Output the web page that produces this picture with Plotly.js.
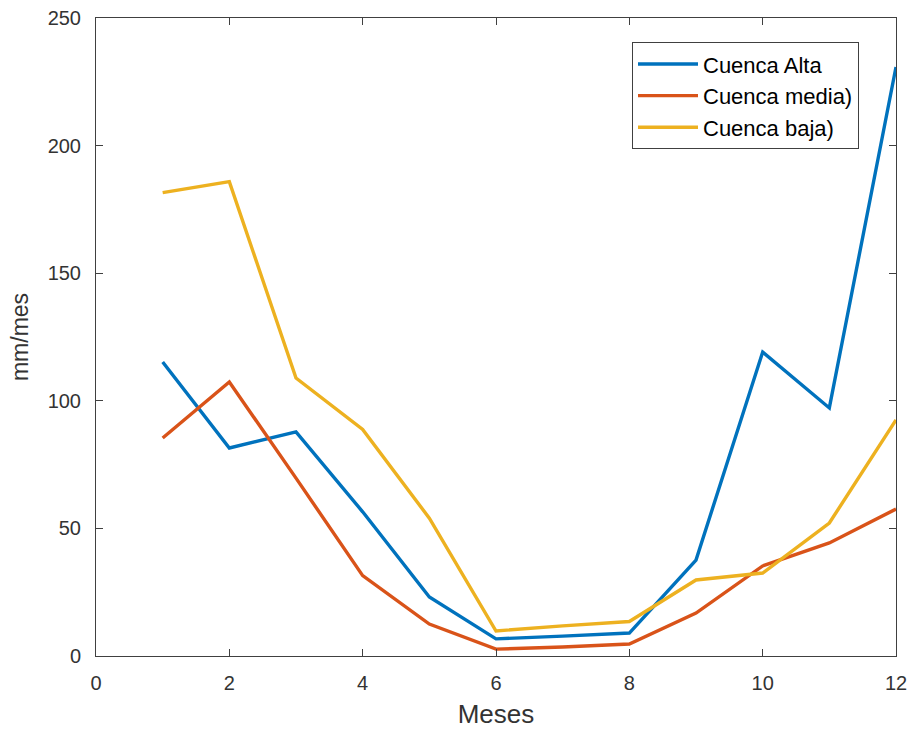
<!DOCTYPE html>
<html>
<head>
<meta charset="utf-8">
<script src="https://cdn.plot.ly/plotly-3.0.1.min.js"></script>
<style>html,body{margin:0;padding:0;background:#fff;}#chart{width:912px;height:729px;}</style>
</head>
<body>
<div id="chart"></div>
<script>
const meses = [1, 2, 3, 4, 5, 6, 7, 8, 9, 10, 11, 12];
const cuencaAlta  = [115.2, 81.5, 87.8, 56.5, 23.1, 6.7, 7.8, 9.0, 37.6, 119.1, 97.2, 230.8];
const cuencaMedia = [85.4, 107.4, 69.7, 31.5, 12.5, 2.7, 3.5, 4.7, 16.8, 35.3, 44.3, 57.6];
const cuencaBaja  = [181.6, 185.9, 108.9, 88.8, 54.0, 9.8, 11.8, 13.5, 29.8, 32.5, 52.1, 92.5];
const seriesNames = ["Cuenca Alta", "Cuenca media)", "Cuenca baja)"];
const colors = ["#0072BD", "#D95319", "#EDB120"];
const xTicks = [0, 2, 4, 6, 8, 10, 12];
const yTicks = [0, 50, 100, 150, 200, 250];

const ys = [cuencaAlta, cuencaMedia, cuencaBaja];
const traces = ys.map((y, i) => ({
  x: meses, y: y, type: "scatter", mode: "lines", name: seriesNames[i],
  line: {color: colors[i], width: 3.4}
}));

const FONT = "Liberation Sans, Arial, sans-serif";
const axisCommon = {
  showgrid: false, zeroline: false, showline: true, linecolor: "#404040", linewidth: 1,
  mirror: "ticks", ticks: "inside", ticklen: 7, tickcolor: "#404040", tickwidth: 1,
  tickfont: {family: FONT, size: 20, color: "#333333"}
};

const layout = {
  width: 912, height: 729,
  margin: {l: 96, r: 16, t: 18, b: 73},
  paper_bgcolor: "#fff", plot_bgcolor: "#fff",
  showlegend: true,
  xaxis: Object.assign({}, axisCommon, {
    range: [0, 12], tickvals: xTicks, ticktext: xTicks.map(String), ticklabelstandoff: 9,
    title: {text: "Meses", font: {family: FONT, size: 26, color: "#333333"}, standoff: 13}
  }),
  yaxis: Object.assign({}, axisCommon, {
    range: [0, 250], tickvals: yTicks, ticktext: yTicks.map(String), ticklabelstandoff: 10,
    title: {text: "mm/mes", font: {family: FONT, size: 23, color: "#333333"}, standoff: 12}
  }),
  legend: {
    x: 0.67, y: 0.962, xanchor: "left", yanchor: "top",
    bgcolor: "#fff", bordercolor: "#404040", borderwidth: 1,
    font: {family: FONT, size: 22, color: "#000"},
    tracegroupgap: 0, itemwidth: 60
  }
};

Plotly.newPlot("chart", traces, layout, {staticPlot: true, displayModeBar: false});
</script>
</body>
</html>
